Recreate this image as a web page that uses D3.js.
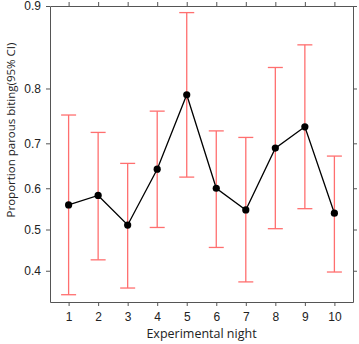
<!DOCTYPE html>
<html>
<head>
<meta charset="utf-8">
<script src="https://cdn.jsdelivr.net/npm/d3@7"></script>
<style>
  body { margin: 0; background: #fff; }
  .tick text { font-family: "Liberation Sans", Arial, sans-serif; font-size: 12px; fill: #222; }
  .domain, .tick line { stroke: #555; }
</style>
</head>
<body>
<div id="chart"></div>
<script>
// nights and proportions (logit scale on y)
const nights = [1, 2, 3, 4, 5, 6, 7, 8, 9, 10];
const prop  = [0.560, 0.583, 0.511, 0.644, 0.790, 0.600, 0.548, 0.690, 0.733, 0.540];
const upper = [0.755, 0.722, 0.657, 0.762, 0.894, 0.725, 0.712, 0.831, 0.860, 0.673];
const lower = [0.345, 0.426, 0.360, 0.505, 0.626, 0.456, 0.374, 0.502, 0.551, 0.397];
const yTicks = [0.4, 0.5, 0.6, 0.7, 0.8, 0.9];

const logit = p => Math.log(p / (1 - p));
const expit = v => 1 / (1 + Math.exp(-v));

const W = 359, H = 344;
const margin = { top: 6, right: 6, bottom: 42, left: 50 };
const width = W - margin.left - margin.right,
      height = H - margin.top - margin.bottom;

const svg = d3.select("#chart").append("svg")
  .attr("width", W).attr("height", H)
  .append("g")
  .attr("transform", `translate(${margin.left},${margin.top})`);

const x = d3.scaleLinear().domain([0.37, 10.63]).range([0, width]);
const yl = d3.scaleLinear().domain([logit(0.329), logit(0.9)]).range([height, 0]);
const y = p => yl(logit(p));

// axes (box with ticks on all sides)
svg.append("g")
  .attr("transform", `translate(0,${height})`)
  .call(d3.axisBottom(x).tickValues(nights).tickSize(4).tickSizeOuter(0).tickPadding(6));
svg.append("g")
  .call(d3.axisTop(x).tickValues(nights).tickSize(4).tickSizeOuter(0).tickFormat(""));
svg.append("g")
  .call(d3.axisLeft(yl).tickValues(yTicks.map(logit)).tickSize(4).tickSizeOuter(0)
    .tickPadding(5).tickFormat(v => d3.format(".1f")(expit(v))));
svg.append("g")
  .attr("transform", `translate(${width},0)`)
  .call(d3.axisRight(yl).tickValues(yTicks.map(logit)).tickSize(4).tickSizeOuter(0).tickFormat(""));

const data = nights.map((n, i) => ({ n, p: prop[i], lo: lower[i], hi: upper[i] }));

// error bars
const eb = svg.append("g").attr("stroke", "#ff6f6f").attr("stroke-width", 1.3);
eb.selectAll("line.v").data(data).enter().append("line")
  .attr("x1", d => x(d.n)).attr("x2", d => x(d.n))
  .attr("y1", d => y(d.lo)).attr("y2", d => y(d.hi));
eb.selectAll("line.t").data(data).enter().append("line")
  .attr("x1", d => x(d.n) - 7.5).attr("x2", d => x(d.n) + 7.5)
  .attr("y1", d => y(d.hi)).attr("y2", d => y(d.hi));
eb.selectAll("line.b").data(data).enter().append("line")
  .attr("x1", d => x(d.n) - 7.5).attr("x2", d => x(d.n) + 7.5)
  .attr("y1", d => y(d.lo)).attr("y2", d => y(d.lo));

// line + points
svg.append("path")
  .datum(data)
  .attr("fill", "none")
  .attr("stroke", "#000")
  .attr("stroke-width", 1.3)
  .attr("d", d3.line().x(d => x(d.n)).y(d => y(d.p)));

svg.selectAll("circle").data(data).enter().append("circle")
  .attr("cx", d => x(d.n)).attr("cy", d => y(d.p))
  .attr("r", 3.6).attr("fill", "#000");

// axis titles
svg.append("text")
  .attr("x", width / 2).attr("y", height + 36)
  .attr("text-anchor", "middle")
  .style("font-family", "'Open Sans', sans-serif").style("font-size", "12.5px").style("fill", "#222")
  .text("Experimental night");

svg.append("text")
  .attr("transform", `translate(${-margin.left + 15},${124}) rotate(-90)`)
  .attr("text-anchor", "middle")
  .style("font-family", "'Open Sans', sans-serif").style("font-size", "11.5px").style("fill", "#222")
  .text("Proportion parous biting(95% CI)");
</script>
</body>
</html>
